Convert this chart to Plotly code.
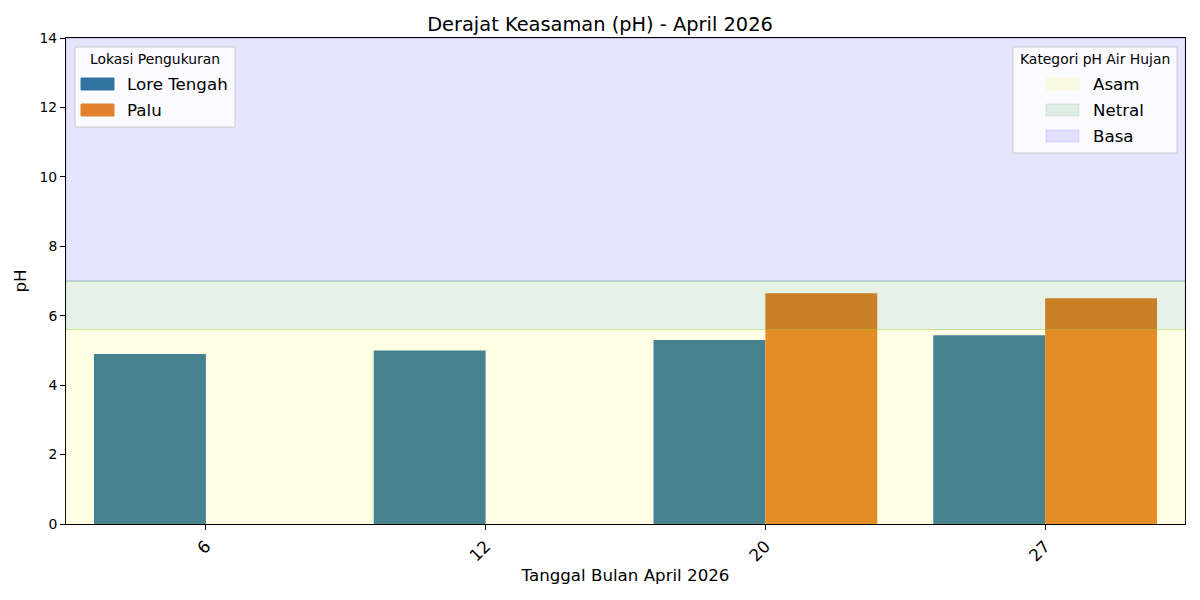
import plotly.graph_objects as go

dates = ["6", "12", "20", "27"]
lore_tengah = [4.9, 5.0, 5.3, 5.44]
palu = [None, None, 6.65, 6.5]
series_names = ["Lore Tengah", "Palu"]
series_colors = ["#3274a1", "#e1812c"]

band_names = ["Asam", "Netral", "Basa"]
band_lo = [0, 5.6, 7]
band_hi = [5.6, 7, 14]
band_colors = ["rgba(255,255,0,0.1)", "rgba(0,128,0,0.1)", "rgba(0,0,255,0.1)"]
band_edges = ["rgba(200,220,80,0.35)", "rgba(0,100,0,0.15)", "rgba(60,60,160,0.25)"]

W, H = 1200, 600
L, R, T, B = 66, 1185, 38, 524
FONT = "DejaVu Sans"
F_SMALL = 13.9
F_MED = 16.67
F_TITLE = 19.4


def px(x):
    return (x - L) / (R - L)


def py(y):
    return (B - y) / (B - T)


fig = go.Figure()
for name, vals, col in zip(series_names, [lore_tengah, palu], series_colors):
    fig.add_trace(go.Bar(x=dates, y=vals, name=name, marker=dict(color=col, line=dict(width=0)),
                         showlegend=False))

shapes = []
for lo, hi, col, ec in zip(band_lo, band_hi, band_colors, band_edges):
    shapes.append(dict(type="rect", xref="paper", yref="y", x0=0, x1=1, y0=lo, y1=hi,
                       fillcolor=col, line=dict(color=col, width=1), layer="above"))
    shapes.append(dict(type="line", xref="paper", yref="y", x0=0, x1=1, y0=hi, y1=hi,
                       line=dict(color=ec, width=1), layer="above"))

annotations = []


def legend_box(x0, y0, x1, y1, title, names, colors, sw_x0, label_x, rows_y):
    shapes.append(dict(type="rect", xref="paper", yref="paper", x0=px(x0), x1=px(x1),
                       y0=py(y1), y1=py(y0), fillcolor="rgba(255,255,255,0.8)",
                       line=dict(color="#cccccc", width=1), layer="above"))
    annotations.append(dict(xref="paper", yref="paper", x=px((x0 + x1) / 2), y=py(y0 + 12),
                            text=title, showarrow=False, xanchor="center", yanchor="middle",
                            font=dict(family=FONT, size=F_SMALL, color="#000000")))
    for nm, col, yc in zip(names, colors, rows_y):
        shapes.append(dict(type="rect", xref="paper", yref="paper", x0=px(sw_x0), x1=px(sw_x0 + 33),
                           y0=py(yc + 6), y1=py(yc - 6), fillcolor=col,
                           line=dict(color=col, width=1), layer="above"))
        annotations.append(dict(xref="paper", yref="paper", x=px(label_x), y=py(yc),
                                text=nm, showarrow=False, xanchor="left", yanchor="middle",
                                font=dict(family=FONT, size=F_MED, color="#000000")))


legend_box(75, 47, 235, 127, "Lokasi Pengukuran", series_names, series_colors, 81, 125, [84, 110])
legend_box(1013, 47, 1177, 153, "Kategori pH Air Hujan", band_names, band_colors, 1046, 1091, [84, 110, 136])

fig.update_layout(
    width=W, height=H,
    margin=dict(l=L, r=W - R, t=T, b=H - B, pad=0),
    paper_bgcolor="white", plot_bgcolor="white",
    barmode="group", bargap=0.2, bargroupgap=0,
    title=dict(text="Derajat Keasaman (pH) - April 2026", x=0.5, xanchor="center",
               y=1 - 24 / H, yanchor="middle", font=dict(family=FONT, size=F_TITLE, color="#000000")),
    font=dict(family=FONT, color="#000000"),
    shapes=shapes, annotations=annotations,
    xaxis=dict(type="category", range=[-0.5, 3.5], showgrid=False, zeroline=False,
               showline=True, linecolor="black", linewidth=1, mirror=True,
               ticks="outside", ticklen=5, tickcolor="black", tickangle=-45,
               tickfont=dict(family=FONT, size=F_MED),
               title=dict(text="Tanggal Bulan April 2026", font=dict(family=FONT, size=F_MED), standoff=4)),
    yaxis=dict(range=[0, 14], dtick=2, showgrid=False, zeroline=False,
               showline=True, linecolor="black", linewidth=1, mirror=True,
               ticks="outside", ticklen=5, tickcolor="black",
               tickfont=dict(family=FONT, size=F_SMALL),
               title=dict(text="pH", font=dict(family=FONT, size=F_MED), standoff=8)),
)

fig.write_html("out.html", config={"displayModeBar": False},
               post_script="document.body.style.margin='0';")
